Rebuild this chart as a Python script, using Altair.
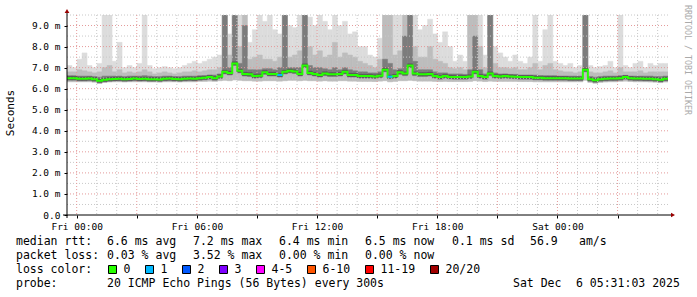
import altair as alt
import pandas as pd

MONO = "DejaVu Sans Mono"

# ---- time grid: hours relative to Fri 00:00; graph ends Sat 05:31:03, 30 h span, 15 min bins
T_END = 29 + 31 / 60 + 3 / 3600
T_START = T_END - 30
STEP = 0.25

# ---- median rtt per bin (ms)
med = [
    6.50, 6.50, 6.47, 6.47, 6.48, 6.45, 6.38, 6.42, 6.45, 6.46,
    6.47, 6.45, 6.46, 6.48, 6.46, 6.47, 6.45, 6.45, 6.44, 6.47,
    6.48, 6.46, 6.45, 6.47, 6.48, 6.47, 6.50, 6.52, 6.55, 6.50,
    6.58, 6.80, 6.75, 7.20, 6.85, 6.70, 6.68, 6.60, 6.62, 6.78,
    6.70, 6.70, 6.65, 6.80, 6.85, 6.82, 6.70, 7.10, 6.75, 6.70,
    6.65, 6.72, 6.68, 6.68, 6.70, 6.80, 6.65, 6.65, 6.60, 6.60,
    6.60, 6.58, 6.62, 6.90, 6.57, 6.60, 6.78, 6.72, 7.10, 6.72,
    6.68, 6.68, 6.70, 6.60, 6.55, 6.60, 6.56, 6.55, 6.55, 6.55,
    6.58, 6.80, 6.60, 6.55, 6.72, 6.60, 6.58, 6.60, 6.58, 6.57,
    6.55, 6.55, 6.55, 6.52, 6.52, 6.50, 6.50, 6.50, 6.50, 6.50,
    6.48, 6.48, 6.48, 6.90, 6.45, 6.40, 6.45, 6.47, 6.48, 6.48,
    6.50, 6.55, 6.50, 6.48, 6.48, 6.47, 6.47, 6.45, 6.42, 6.47,
]
# ---- top of lightest smoke (max ping)
mx = [
    7.1, 7.0, 7.4, 7.7, 7.1, 7.0, 7.2, 9.6, 9.6, 7.3,
    8.2, 7.0, 7.1, 7.0, 7.2, 9.6, 7.1, 6.95, 7.0, 7.05,
    7.0, 6.95, 7.0, 7.1, 7.2, 7.3, 7.2, 7.3, 7.4, 7.5,
    7.6, 9.6, 8.6, 9.6, 9.6, 9.6, 8.2, 8.8, 9.6, 9.2,
    9.6, 8.8, 8.6, 9.6, 9.0, 8.9, 9.6, 9.6, 9.4, 9.0,
    9.6, 9.2, 8.8, 9.6, 9.0, 9.2, 8.6, 8.7, 8.0, 8.0,
    7.6, 7.5, 8.4, 9.6, 9.6, 9.6, 9.6, 9.6, 9.6, 9.6,
    8.8, 9.0, 9.3, 8.6, 8.2, 8.7, 8.0, 7.3, 7.6, 7.3,
    9.6, 9.6, 9.6, 7.6, 9.6, 8.0, 7.7, 7.5, 7.3, 7.6,
    7.3, 7.2, 7.5, 9.6, 7.3, 8.8, 9.6, 7.3, 7.2, 7.1,
    7.2, 7.0, 7.1, 9.6, 7.1, 7.0, 7.05, 7.1, 7.3, 7.0,
    9.6, 7.1, 7.0, 7.2, 7.3, 7.0, 7.2, 7.1, 7.2, 7.2,
]
# ---- top of medium smoke
md = [
    6.8, 6.8, 6.9, 6.85, 6.8, 6.75, 6.8, 7.0, 7.1, 6.8,
    6.9, 6.75, 6.8, 6.75, 6.8, 6.9, 6.8, 6.7, 6.75, 6.8,
    6.75, 6.7, 6.75, 6.8, 6.8, 6.85, 6.8, 6.85, 6.9, 6.9,
    7.0, 9.6, 7.6, 9.6, 8.0, 9.6, 7.4, 7.5, 7.6, 7.4,
    7.4, 7.3, 7.5, 9.6, 7.5, 7.6, 7.8, 9.6, 8.0, 7.6,
    7.8, 7.5, 7.6, 8.2, 7.5, 7.7, 7.6, 7.5, 7.3, 7.2,
    7.1, 7.0, 7.4, 9.6, 9.6, 7.6, 7.8, 9.6, 9.6, 8.0,
    7.5, 7.5, 8.0, 7.4, 7.3, 7.2, 7.0, 6.95, 7.0, 6.9,
    9.6, 9.6, 8.0, 7.0, 9.6, 7.2, 7.0, 7.0, 6.95, 7.0,
    6.9, 6.9, 7.0, 7.2, 6.9, 7.1, 7.2, 6.9, 6.85, 6.8,
    6.8, 6.75, 6.8, 9.6, 6.8, 6.75, 6.75, 6.8, 6.85, 6.75,
    7.0, 6.8, 6.8, 6.8, 6.85, 6.75, 6.8, 6.8, 6.8, 6.8,
]
# ---- top of dark smoke
dk = [
    6.62, 6.62, 6.6, 6.6, 6.6, 6.58, 6.55, 6.6, 6.6, 6.6,
    6.6, 6.58, 6.6, 6.6, 6.6, 6.62, 6.6, 6.58, 6.58, 6.6,
    6.6, 6.58, 6.58, 6.6, 6.6, 6.6, 6.62, 6.62, 6.65, 6.65,
    6.7, 9.6, 7.0, 9.6, 7.2, 9.0, 6.9, 6.9, 6.9, 6.95,
    6.95, 6.9, 7.0, 9.6, 7.0, 7.0, 7.0, 9.6, 7.1, 7.0,
    7.0, 6.95, 6.9, 7.0, 6.9, 7.0, 6.9, 6.85, 6.8, 6.8,
    6.75, 6.75, 6.8, 7.4, 7.2, 6.9, 6.95, 8.5, 9.6, 7.3,
    6.9, 6.9, 6.9, 6.8, 6.75, 6.75, 6.7, 6.7, 6.7, 6.68,
    6.9, 8.5, 6.9, 6.7, 9.6, 6.75, 6.7, 6.7, 6.68, 6.68,
    6.65, 6.65, 6.65, 6.65, 6.62, 6.62, 6.62, 6.62, 6.6, 6.6,
    6.6, 6.6, 6.6, 9.6, 6.58, 6.55, 6.58, 6.6, 6.6, 6.6,
    6.62, 6.62, 6.6, 6.6, 6.6, 6.6, 6.6, 6.58, 6.58, 6.6,
]
# ---- bottom of smoke (min ping)
lo = [
    6.33, 6.33, 6.33, 6.33, 6.33, 6.31, 6.25, 6.30, 6.32, 6.33,
    6.33, 6.32, 6.33, 6.33, 6.33, 6.33, 6.32, 6.32, 6.31, 6.33,
    6.33, 6.33, 6.32, 6.33, 6.33, 6.33, 6.35, 6.35, 6.36, 6.35,
    6.38, 6.40, 6.38, 6.42, 6.40, 6.38, 6.38, 6.36, 6.36, 6.38,
    6.38, 6.38, 6.36, 6.38, 6.40, 6.40, 6.38, 6.40, 6.38, 6.38,
    6.36, 6.38, 6.36, 6.36, 6.38, 6.38, 6.36, 6.36, 6.35, 6.35,
    6.35, 6.34, 6.36, 6.38, 6.33, 6.35, 6.38, 6.38, 6.40, 6.38,
    6.36, 6.36, 6.36, 6.35, 6.34, 6.35, 6.34, 6.34, 6.34, 6.34,
    6.35, 6.38, 6.36, 6.34, 6.36, 6.35, 6.35, 6.35, 6.35, 6.35,
    6.34, 6.34, 6.34, 6.33, 6.33, 6.33, 6.33, 6.33, 6.33, 6.33,
    6.33, 6.33, 6.33, 6.40, 6.30, 6.26, 6.30, 6.32, 6.33, 6.33,
    6.35, 6.36, 6.34, 6.33, 6.33, 6.33, 6.32, 6.31, 6.29, 6.32,
]
# ---- lost pings per bin (out of 20)
loss = [0] * 120
loss[42] = 1
loss[64] = 1

loss_labels = ["0", "1", "2", "3", "4-5", "6-10", "11-19", "20/20"]
loss_colors = ["#26ff00", "#00b8ff", "#0059ff", "#7e00ff", "#ff00ff", "#ff5500", "#ff0000", "#a10000"]

ytick_values = [0, 1, 2, 3, 4, 5, 6, 7, 8, 9]
ygrid_minor = [0.5, 1.5, 2.5, 3.5, 4.5, 5.5, 6.5, 7.5, 8.5, 9.5]
xtick_hours = [0, 3, 6, 9, 12, 15, 18, 21, 24, 27]
xgrid_minor = [h for h in range(0, 30) if h % 3 != 0]
xlabel_hours = [0, 6, 12, 18, 24]
xlabel_text = ["Fri 00:00", "Fri 06:00", "Fri 12:00", "Fri 18:00", "Sat 00:00"]

rtt_row = ["median rtt:", "6.6 ms avg", "7.2 ms max", "6.4 ms min", "6.5 ms now", "0.1 ms sd", "56.9", "am/s"]
loss_row = ["packet loss:", "0.03 % avg", "3.52 % max", "0.00 % min", "0.00 % now"]
probe_row = ["probe:", "20 ICMP Echo Pings (56 Bytes) every 300s"]
date_text = ["Sat Dec", "6 05:31:03 2025"]

# ---------------------------------------------------------------------------
N = len(med)
t0 = [T_START + i * STEP for i in range(N)]
df = pd.DataFrame(dict(t0=t0, t1=[t + STEP for t in t0], med=med, mx=mx, md=md, dk=dk, lo=lo, loss=loss))
df["dlo"] = df["med"] - 0.1
df["klo"] = df["med"] - 0.07
df["khi"] = df["med"] + 0.08

line_df = pd.DataFrame(dict(t0=t0 + [T_END], med=med + [med[-1]]))

OX, OY = 67, 15
W, H = 601, 200
xs = alt.Scale(domain=[T_START, T_END], nice=False, zero=False)
ys = alt.Scale(domain=[0, 9.5], nice=False, zero=True)

xexpr = "''"
for h, s in reversed(list(zip(xlabel_hours, xlabel_text))):
    xexpr = f"datum.value == {h} ? '{s}' : ({xexpr})"

xaxis = alt.Axis(values=xtick_hours, labelExpr=xexpr, domain=False, grid=False, tickSize=3,
                 tickColor="black", labelFont=MONO, labelFontSize=9.5, labelColor="black",
                 labelPadding=3, labelAngle=0, title="", labelOverlap=False, labelFlush=False)
yaxis = alt.Axis(values=ytick_values,
                 labelExpr="datum.value == 0 ? '0.0' : format(datum.value, '.1f') + ' m'",
                 domain=False, grid=False, tickSize=3, tickColor="black", labelFont=MONO,
                 labelFontSize=9.5, labelColor="black", labelPadding=4, title="", labelOverlap=False)


def X(f):
    return alt.X(f"{f}:Q", scale=xs, axis=xaxis)


def Y(f):
    return alt.Y(f"{f}:Q", scale=ys, axis=yaxis)


def band(lo_f, hi_f, color):
    return alt.Chart(df).mark_rect(color=color, stroke=color, strokeWidth=0.5, clip=True).encode(
        x=X("t0"), x2="t1", y=Y(lo_f), y2=hi_f,
    )


layers = [
    band("lo", "mx", "#dcdcdc"),
    band("lo", "md", "#bdbdbd"),
    band("dlo", "dk", "#7c7c7c"),
    band("klo", "khi", "#555555"),
]

# grid (horizontal rules spanning the plot, vertical rules spanning the height)
for vals, col in ((ygrid_minor, "#c8c8c8"), (ytick_values[1:], "#e49a9a")):
    layers.append(alt.Chart(pd.DataFrame({"v": vals})).mark_rule(color=col, strokeDash=[1, 2], strokeWidth=1)
                  .encode(y=Y("v"), x=alt.value(0), x2=alt.value(W)))
for vals, col in ((xgrid_minor, "#c8c8c8"), (xtick_hours, "#e49a9a")):
    layers.append(alt.Chart(pd.DataFrame({"h": vals})).mark_rule(color=col, strokeDash=[1, 2], strokeWidth=1)
                  .encode(x=X("h"), y=alt.value(0), y2=alt.value(H)))

# median line
layers.append(alt.Chart(line_df).mark_line(interpolate="step-after", color=loss_colors[0], strokeWidth=2)
              .encode(x=X("t0"), y=Y("med")))
for lv in sorted(set(v for v in loss if v > 0)):
    layers.append(alt.Chart(df[df["loss"] == lv]).mark_rule(color=loss_colors[lv], strokeWidth=2)
                  .encode(x=X("t0"), x2="t1", y=Y("med")))

one = pd.DataFrame({"a": [0]})
# axis lines with arrows
layers.append(alt.Chart(one).mark_rule(color="black", strokeWidth=1)
              .encode(x=alt.value(-4), x2=alt.value(W + 3), y=alt.value(H)))
layers.append(alt.Chart(one).mark_rule(color="black", strokeWidth=1)
              .encode(x=alt.value(0), y=alt.value(H + 3), y2=alt.value(-3)))
layers.append(alt.Chart(one).mark_point(shape="triangle-up", filled=True, color="#990000", size=22, opacity=1)
              .encode(x=alt.value(0), y=alt.value(-4)))
layers.append(alt.Chart(one).mark_point(shape="triangle-right", filled=True, color="#990000", size=22, opacity=1)
              .encode(x=alt.value(W + 5), y=alt.value(H)))


def label(s, x, y, size=11.5, color="black", align="left", baseline="alphabetic", angle=0):
    return alt.Chart(pd.DataFrame({"s": [s]})).mark_text(
        align=align, baseline=baseline, fontSize=size, font=MONO, color=color, angle=angle
    ).encode(x=alt.value(x - OX), y=alt.value(y - OY), text="s:N")


layers.append(label("Seconds", 11, 113, size=11, align="center", baseline="middle", angle=270))
layers.append(label("RRDTOOL / TOBI OETIKER", 687, 60, size=8.3, color="#aaaaaa", align="center",
                    baseline="middle", angle=90))

row1_x = [16, 107, 193, 279, 365, 452, 530, 579]
for s, x in zip(rtt_row, row1_x):
    layers.append(label(s, x, 245))
for s, x in zip(loss_row, row1_x):
    layers.append(label(s, x, 259))
layers.append(label("loss color:", 16, 273))
bx = 108
for s, c in zip(loss_labels, loss_colors):
    layers.append(alt.Chart(one).mark_rect(fill=c, stroke="black", strokeWidth=1)
                  .encode(x=alt.value(bx - OX + 0.5), x2=alt.value(bx - OX + 8.5),
                          y=alt.value(265 - OY + 0.5), y2=alt.value(273 - OY + 0.5)))
    layers.append(label(s, bx + 15.5, 273))
    bx += 30 + 7 * len(s)
layers.append(label(probe_row[0], 16, 287))
layers.append(label(probe_row[1], 107, 287))
layers.append(label(date_text[0], 513, 287))
layers.append(label(date_text[1], 576, 287))

chart = alt.layer(*layers).properties(
    width=W, height=H,
    autosize=alt.AutoSizeParams(type="none"),
    padding={"left": OX, "top": OY, "right": 697 - OX - W, "bottom": 297 - OY - H},
    background="white",
).configure_view(strokeWidth=0)

chart.save("out.html", embed_options={"renderer": "svg", "actions": False})
